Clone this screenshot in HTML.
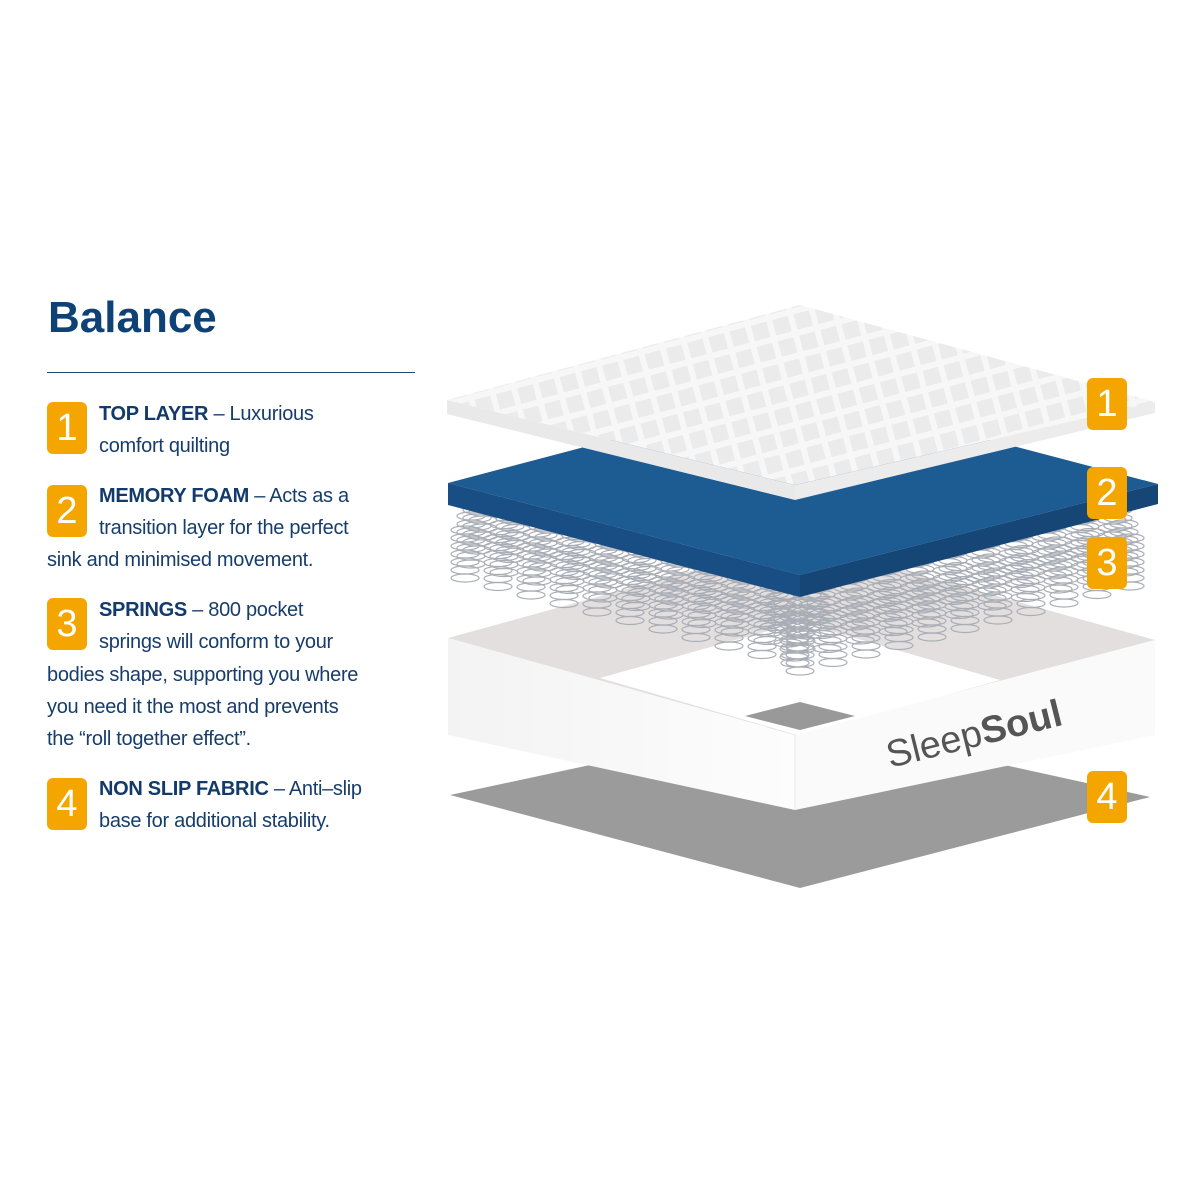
<!DOCTYPE html>
<html><head><meta charset="utf-8"><style>
body{margin:0;width:1200px;height:1200px;background:#fff;position:relative;overflow:hidden;font-family:"Liberation Sans",sans-serif;color:#163d6c}
.t{position:absolute;font-size:20px;white-space:nowrap;letter-spacing:-0.3px}
.t b{font-weight:bold;color:#123a6a}
.bd{position:absolute;width:40px;height:52px;background:#f4a500;border-radius:6px;color:#fff;font-size:38px;text-align:center;line-height:52px}
h1{position:absolute;left:48px;top:293px;margin:0;font-size:44px;font-weight:bold;color:#0e4276}
</style></head><body>
<h1>Balance</h1>
<div style="position:absolute;left:47px;top:372px;width:368px;height:1px;background:#1c4a7a"></div>

<div class="bd" style="left:47px;top:402px">1</div>
<div class="t" style="left:99px;top:403px"><b>TOP LAYER</b> – Luxurious</div>
<div class="t" style="left:99px;top:435px">comfort quilting</div>

<div class="bd" style="left:47px;top:485px">2</div>
<div class="t" style="left:99px;top:485px"><b>MEMORY FOAM</b> – Acts as a</div>
<div class="t" style="left:99px;top:517px">transition layer for the perfect</div>
<div class="t" style="left:47px;top:549px">sink and minimised movement.</div>

<div class="bd" style="left:47px;top:598px">3</div>
<div class="t" style="left:99px;top:599px"><b>SPRINGS</b> – 800 pocket</div>
<div class="t" style="left:99px;top:631px">springs will conform to your</div>
<div class="t" style="left:47px;top:664px">bodies shape, supporting you where</div>
<div class="t" style="left:47px;top:696px">you need it the most and prevents</div>
<div class="t" style="left:47px;top:728px">the “roll together effect”.</div>

<div class="bd" style="left:47px;top:778px">4</div>
<div class="t" style="left:99px;top:778px"><b>NON SLIP FABRIC</b> – Anti–slip</div>
<div class="t" style="left:99px;top:810px">base for additional stability.</div>

<svg style="position:absolute;left:0;top:0" width="1200" height="1200">
<defs>
<pattern id="q" width="22" height="22" patternUnits="userSpaceOnUse" patternTransform="rotate(-15)">
<rect width="22" height="22" fill="#f7f7f7"/><rect x="3" y="3" width="16" height="16" fill="#ebebeb"/></pattern>
<linearGradient id="wg" x1="0" x2="1"><stop offset="0" stop-color="#f3f3f3"/><stop offset="1" stop-color="#fdfdfd"/></linearGradient>
</defs>
<polygon points="450,795 800,720 1150,797 800,888" fill="#9b9b9b"/>
<polygon points="448,638 800,541 1155,640 795,735" fill="#e3dfdf"/>
<polygon points="600,678 800,622 1000,680 800,736" fill="#fff"/>
<polygon points="745,716 800,702 855,716 800,730" fill="#999"/>
<polygon points="448,638 795,735 795,810 448,735" fill="url(#wg)"/>
<polygon points="795,735 1155,640 1155,735 795,810" fill="#fafafa"/>
<line x1="795" y1="735" x2="795" y2="810" stroke="#e8e8e8"/>
<text x="890" y="768" font-size="38" fill="#555" transform="rotate(-14 890 768)" font-family="Liberation Sans">Sleep<tspan font-weight="bold">Soul</tspan></text>
<g id="spr" fill="none" stroke="#a9adb5" stroke-width="1.2"></g>
<polygon points="448,483 800,390 1158,484 800,575" fill="#1d5b93"/>
<polygon points="448,483 800,575 800,597 448,505" fill="#184e83"/>
<polygon points="800,575 1158,484 1158,504 800,597" fill="#154676"/>
<polygon points="447,400 800,305 1155,402 795,485" fill="url(#q)"/>
<polygon points="447,400 795,485 795,500 447,414" fill="#e9e9e9"/>
<polygon points="795,485 1155,402 1155,413 795,500" fill="#ececec"/>
</svg>
<div class="bd" style="left:1087px;top:378px">1</div>
<div class="bd" style="left:1087px;top:467px">2</div>
<div class="bd" style="left:1087px;top:537px">3</div>
<div class="bd" style="left:1087px;top:771px">4</div>
<script>
var g=document.getElementById('spr'),s='';
for(var j=3;j>=0;j--){for(var i=0;i<22;i++){
var x,y;
if(i<11){x=465+i*33;y=555+i*8.5;}else{x=800+(i-11)*33;y=648-(i-11)*8.5;}
y-=j*14;x+= (i<11? j*6:-j*6);
for(var k=0;k<7;k++){s+='<ellipse cx="'+x+'" cy="'+(y-25+k*8)+'" rx="14" ry="4"/>';}
}}
g.innerHTML=s;
</script>
</body></html>
